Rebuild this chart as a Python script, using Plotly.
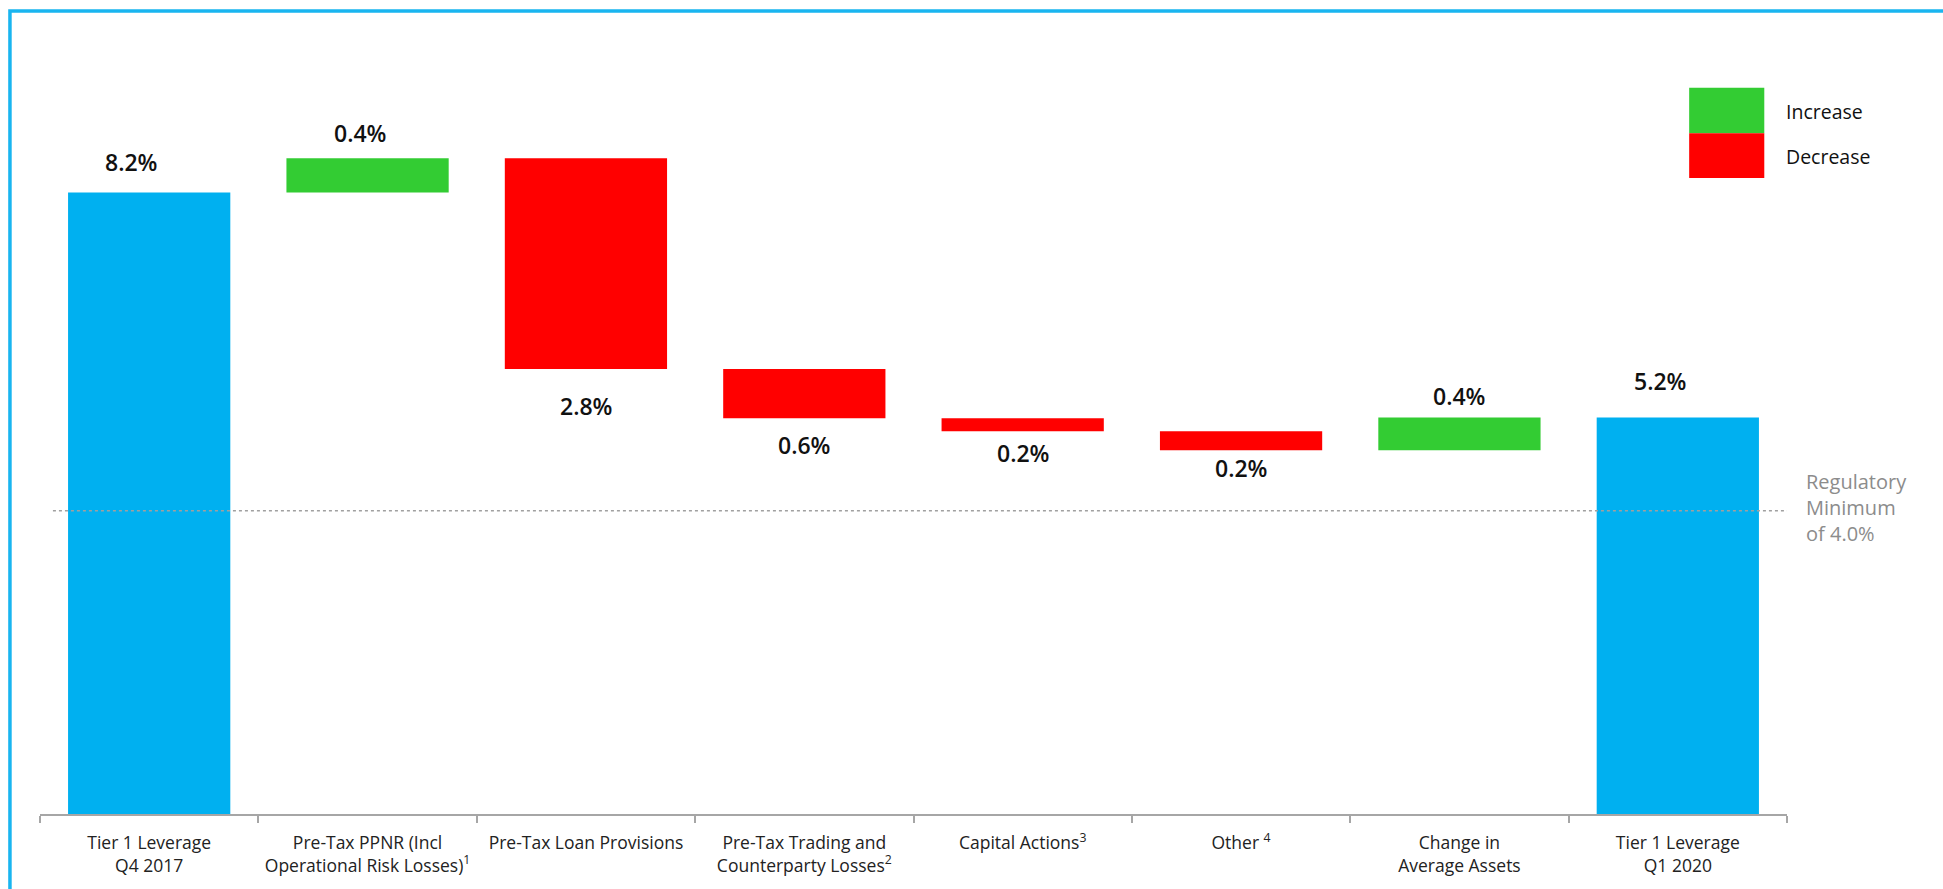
import numpy as np
import plotly.graph_objects as go

categories = [
    "Tier 1 Leverage<br>Q4 2017",
    "Pre-Tax PPNR (Incl<br>Operational Risk Losses)<sup>1</sup>",
    "Pre-Tax Loan Provisions",
    "Pre-Tax Trading and<br>Counterparty Losses<sup>2</sup>",
    "Capital Actions<sup>3</sup>",
    "Other <sup>4</sup>",
    "Change in<br>Average Assets",
    "Tier 1 Leverage<br>Q1 2020",
]
measures = ["absolute", "relative", "relative", "relative", "relative", "relative", "relative", "total"]
values = [8.2, 0.45, -2.78, -0.65, -0.17, -0.25, 0.43, 0]
value_labels = ["8.2%", "0.4%", "2.8%", "0.6%", "0.2%", "0.2%", "0.4%", "5.2%"]
regulatory_minimum = 4.0
legend_labels = ["Increase", "Decrease"]

BLUE = "#00B0F0"
GREEN = "#33CC33"
RED = "#FF0000"
FONT = "Open Sans"

fig = go.Figure()
fig.add_trace(go.Waterfall(
    x=categories,
    y=values,
    measure=measures,
    increasing=dict(marker=dict(color=GREEN)),
    decreasing=dict(marker=dict(color=RED)),
    totals=dict(marker=dict(color=BLUE)),
    connector=dict(visible=False),
    hoverinfo="skip",
    showlegend=False,
))

# label positions from cumulative values
vals = np.array(values, dtype=float)
cum = []
running = 0.0
for m, v in zip(measures, vals):
    if m == "absolute":
        running = v
        cum.append((0.0, running))
    elif m == "total":
        cum.append((0.0, running))
    else:
        start = running
        running = running + v
        cum.append((start, running))

offsets = [30, 25, 37, 27, 22, 18, 22, 37]
xshifts = [-18, -8, 0, 0, 0, 0, 0, -18]
annotations = []
for i, (cat, (s, e)) in enumerate(zip(categories, cum)):
    top, bot = max(s, e), min(s, e)
    if measures[i] == "relative" and e < s:
        y, shift = bot, -offsets[i]
    else:
        y, shift = top, offsets[i]
    annotations.append(dict(
        x=cat, y=y, xref="x", yref="y", text=value_labels[i], showarrow=False,
        yshift=shift, xshift=xshifts[i], yanchor="middle",
        font=dict(family=FONT, size=23, color="#111111", weight=600),
    ))

# regulatory minimum line and text
fig.add_shape(type="line", xref="paper", yref="y", x0=0.0074, x1=1.0,
              y0=regulatory_minimum, y1=regulatory_minimum,
              line=dict(color="#a0a0a0", width=1.5, dash="dot"), layer="above")
annotations.append(dict(
    x=1.0097, y=regulatory_minimum, xref="paper", yref="y", xanchor="left", yanchor="middle",
    text="Regulatory<br>Minimum<br>of 4.0%", showarrow=False, align="left", yshift=3,
    font=dict(family=FONT, size=20, color="#8c8c8c"),
))

# legend boxes
fig.add_shape(type="rect", xref="paper", yref="paper", x0=0.944, x1=0.987, y0=0.898, y1=0.958,
              fillcolor=GREEN, line=dict(width=0))
fig.add_shape(type="rect", xref="paper", yref="paper", x0=0.944, x1=0.987, y0=0.839, y1=0.898,
              fillcolor=RED, line=dict(width=0))
for lab, yy in zip(legend_labels, [0.927, 0.868]):
    annotations.append(dict(
        x=0.9983, y=yy, xref="paper", yref="paper", xanchor="left", yanchor="middle",
        text=lab, showarrow=False, font=dict(family=FONT, size=19.5, color="#111111"),
    ))

# outer frame
fig.add_shape(type="rect", xref="paper", yref="paper", x0=-0.0172, x1=1.2, y0=-0.2, y1=1.0594,
              line=dict(color="#19b5f0", width=3.5), fillcolor="rgba(0,0,0,0)", layer="below")

fig.update_layout(
    width=1943, height=889,
    margin=dict(l=40, r=156, t=56, b=75),
    paper_bgcolor="white", plot_bgcolor="white",
    waterfallgap=0.257,
    annotations=annotations,
    font=dict(family=FONT, size=17, color="#222222"),
    xaxis=dict(
        type="category", range=[-0.5, 7.5], showgrid=False, zeroline=False,
        showline=True, linecolor="#a6a6a6", linewidth=2,
        ticks="outside", tickson="boundaries", ticklen=7, tickcolor="#a6a6a6", tickwidth=2,
        ticklabelstandoff=12, tickangle=0,
        tickfont=dict(family=FONT, size=17.5, color="#222222"),
    ),
    yaxis=dict(range=[0, 10], visible=False, showgrid=False, zeroline=False, fixedrange=True),
)

fig.write_html("out.html")
